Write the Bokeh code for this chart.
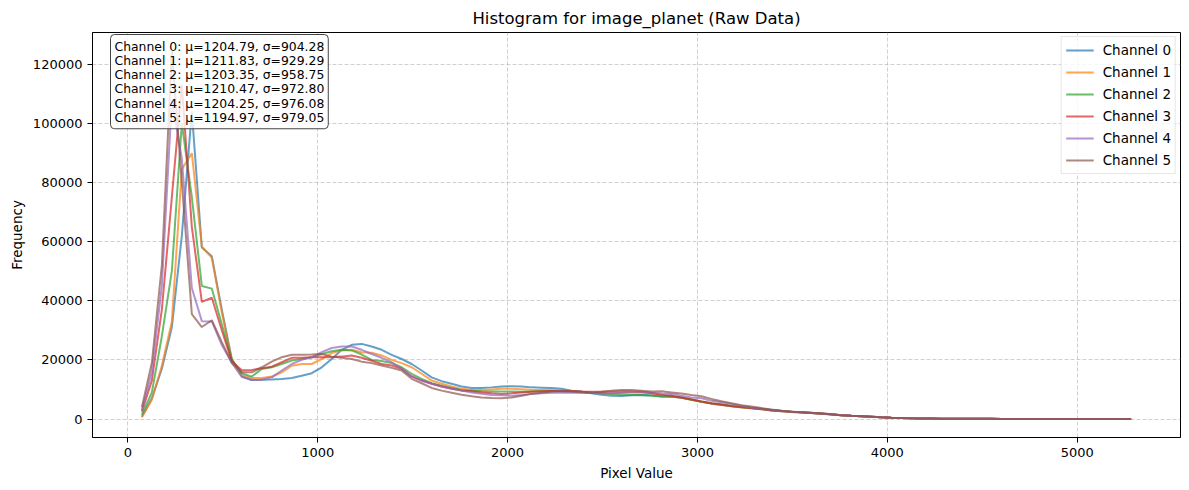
import numpy as np
from bokeh.plotting import figure
from bokeh.models import Range1d, FixedTicker, Legend, LegendItem, Label, NumeralTickFormatter
from bokeh.embed import file_html
from bokeh.resources import INLINE

# histogram bin centers (100 bins)
bin_first_center = 74
bin_last_center = 5284
n_bins = 100
pixel_value = np.linspace(bin_first_center, bin_last_center, n_bins)

tail_a = [1300, 1100, 950, 780, 560, 440, 330, 250, 200, 160,
          130, 110, 90, 75, 60, 50, 40, 35, 30, 25,
          20, 18, 15, 12, 10, 8, 6, 5, 4, 3]

ch0 = [800, 7000, 17000, 31000, 62000, 104000, 58000, 55000, 37000, 20300,
       14500, 13200, 13300, 13400, 13550, 13900, 14600, 15500, 17500, 20300,
       23400, 25100, 25400, 24500, 23400, 21700, 20300, 18600, 16400, 14100,
       12800, 11900, 11000, 10500, 10500, 10700, 11000, 11100, 11000, 10700,
       10600, 10500, 10200, 9600, 9200, 8700, 8200, 7900, 7800, 8000,
       8100, 8000, 7600, 7500, 7200, 6500, 5800, 5200, 4800, 4300,
       4000, 3600, 3300, 2900, 2600, 2400, 2200, 2000, 1800, 1550] + tail_a
ch1 = [600, 6500, 18000, 33000, 84500, 89900, 58400, 54500, 36000, 20000,
       14800, 13900, 13900, 14350, 15800, 18000, 18600, 18600, 20300, 22300,
       23200, 23400, 22600, 22400, 21500, 20000, 18900, 17500, 15300, 13000,
       11900, 11000, 10200, 9800, 9800, 10000, 10200, 10200, 10100, 9900,
       9800, 9800, 9600, 9400, 9200, 8900, 8700, 8700, 8800, 8900,
       8900, 8700, 8000, 7600, 7200, 6500, 5800, 5200, 4700, 4300,
       3900, 3600, 3300, 2900, 2600, 2400, 2200, 2000, 1800, 1550] + tail_a
ch2 = [1500, 9000, 28000, 50000, 100000, 75000, 45000, 44100, 32000, 20000,
       15500, 14350, 16950, 17500, 18600, 19800, 20300, 20900, 22000, 22900,
       23400, 23200, 21800, 20000, 19600, 18900, 17500, 15300, 13600, 12100,
       11300, 10500, 9800, 9600, 9400, 9300, 9300, 9300, 9200, 9300,
       9400, 9400, 9400, 9200, 9000, 8900, 8700, 8500, 8200, 8100,
       8100, 7900, 7600, 7700, 7300, 6600, 5900, 5300, 4900, 4400,
       4100, 3700, 3400, 3000, 2700, 2500, 2300, 2050, 1850, 1600] + tail_a
ch3 = [2500, 13000, 37000, 75000, 113000, 65000, 39600, 41000, 30000, 19500,
       16500, 16600, 17200, 17700, 19200, 20700, 20700, 20900, 20900, 20900,
       21100, 21500, 20700, 19700, 18600, 18100, 17000, 14400, 13000, 11900,
       11000, 10200, 9600, 9400, 9000, 8700, 8500, 8700, 9000, 9200,
       9400, 9500, 9600, 9500, 9300, 9200, 9200, 9300, 9400, 9300,
       9200, 8800, 8200, 7900, 7300, 6600, 5900, 5300, 4900, 4400,
       4100, 3700, 3400, 3000, 2700, 2500, 2300, 2050, 1850, 1600] + tail_a
ch4 = [3000, 16000, 45000, 108000, 88000, 44300, 33100, 33000, 25000, 19000,
       14200, 13200, 13300, 14100, 16400, 18600, 20000, 20900, 22600, 24000,
       24500, 24500, 23400, 22000, 20700, 19200, 17000, 14400, 13000, 11900,
       11000, 10300, 9600, 9000, 8500, 8100, 8000, 7900, 8100, 8500,
       8700, 8900, 8900, 8900, 8900, 8800, 8700, 8700, 8900, 9200,
       9200, 8900, 8600, 8500, 7900, 7300, 7000, 6200, 5700, 5100,
       4500, 3900, 3500, 3100, 2800, 2500, 2300, 2100, 1900, 1650] + tail_a
ch5 = [4000, 19000, 52000, 124500, 80000, 35500, 31100, 33400, 26000, 19000,
       15800, 15800, 17500, 19400, 20900, 21700, 21700, 21800, 22000, 21100,
       20700, 20300, 19400, 18900, 18100, 17300, 16400, 13600, 12100, 10500,
       9600, 8900, 8200, 7700, 7300, 7100, 7000, 7300, 7900, 8500,
       8900, 9300, 9500, 9400, 9200, 8900, 9200, 9600, 9800, 9800,
       9600, 9300, 9400, 9000, 8600, 8100, 7700, 6800, 6000, 5300,
       4700, 4200, 3700, 3200, 2800, 2500, 2300, 2100, 1900, 1650] + tail_a

channels = [ch0, ch1, ch2, ch3, ch4, ch5]
channel_names = ["Channel 0", "Channel 1", "Channel 2", "Channel 3", "Channel 4", "Channel 5"]
means = [1204.79, 1211.83, 1203.35, 1210.47, 1204.25, 1194.97]
stds = [904.28, 929.29, 958.75, 972.80, 976.08, 979.05]
colors = ["#1f77b4", "#ff7f0e", "#2ca02c", "#d62728", "#9467bd", "#8c564b"]
x_ticks = [0, 1000, 2000, 3000, 4000, 5000]
y_ticks = [0, 20000, 40000, 60000, 80000, 100000, 120000]

FONT = "DejaVu Sans"

p = figure(width=1189, height=490, output_backend="svg", toolbar_location=None,
           x_range=Range1d(-186, 5544), y_range=Range1d(-6250, 130700),
           min_border_left=92, min_border_right=9, min_border_top=32, min_border_bottom=53)

p.title.text = "Histogram for image_planet (Raw Data)"
p.title.align = "center"
p.title.text_font = FONT
p.title.text_font_size = "16.5px"
p.title.text_font_style = "normal"
p.title.text_color = "black"

renderers = []
for ys, c in zip(channels, colors):
    r = p.line(pixel_value, ys, line_color=c, line_width=2.0, line_alpha=0.7)
    renderers.append(r)

legend = Legend(items=[LegendItem(label=n, renderers=[r]) for n, r in zip(channel_names, renderers)],
                location="top_right")
legend.label_text_font = FONT
legend.label_text_font_size = "13.5px"
legend.label_text_color = "black"
legend.glyph_width = 28
legend.glyph_height = 18
legend.label_height = 18
legend.spacing = 4
legend.padding = 4
legend.margin = 4
legend.border_line_color = "#d0d0d0"
legend.border_line_width = 1
legend.background_fill_alpha = 0.8
legend.label_standoff = 9
p.add_layout(legend)

stats_text = "\n".join(f"{n}: μ={m:.2f}, σ={s:.2f}" for n, m, s in zip(channel_names, means, stds))
lab = Label(x=18, y=403, x_units="screen", y_units="screen", text=stats_text,
            text_font=FONT, text_font_size="12.4px", text_align="left", text_baseline="top",
            text_color="black", text_line_height=0.95,
            background_fill_color="white", background_fill_alpha=0.8,
            border_line_color="#444444", border_line_width=1, padding=4, border_radius=4)
p.add_layout(lab)

for ax in (p.xaxis[0], p.yaxis[0]):
    ax.major_label_text_font = FONT
    ax.major_label_text_font_size = "13px"
    ax.major_label_text_color = "black"
    ax.axis_label_text_font = FONT
    ax.axis_label_text_font_size = "13.5px"
    ax.axis_label_text_font_style = "normal"
    ax.axis_label_text_color = "black"
    ax.axis_line_color = "black"
    ax.major_tick_line_color = "black"
    ax.major_tick_out = 5
    ax.major_tick_in = 0
    ax.minor_tick_line_color = None

p.xaxis.axis_label = "Pixel Value"
p.yaxis.axis_label = "Frequency"
p.xaxis.ticker = FixedTicker(ticks=x_ticks)
p.yaxis.ticker = FixedTicker(ticks=y_ticks)
p.yaxis.formatter = NumeralTickFormatter(format="0")

p.xgrid.grid_line_color = "#b0b0b0"
p.ygrid.grid_line_color = "#b0b0b0"
p.xgrid.grid_line_alpha = 0.6
p.ygrid.grid_line_alpha = 0.6
p.xgrid.grid_line_dash = "4 2"
p.ygrid.grid_line_dash = "4 2"
p.outline_line_color = "black"
p.outline_line_alpha = 1

open("out.html", "w").write(file_html(p, INLINE))
